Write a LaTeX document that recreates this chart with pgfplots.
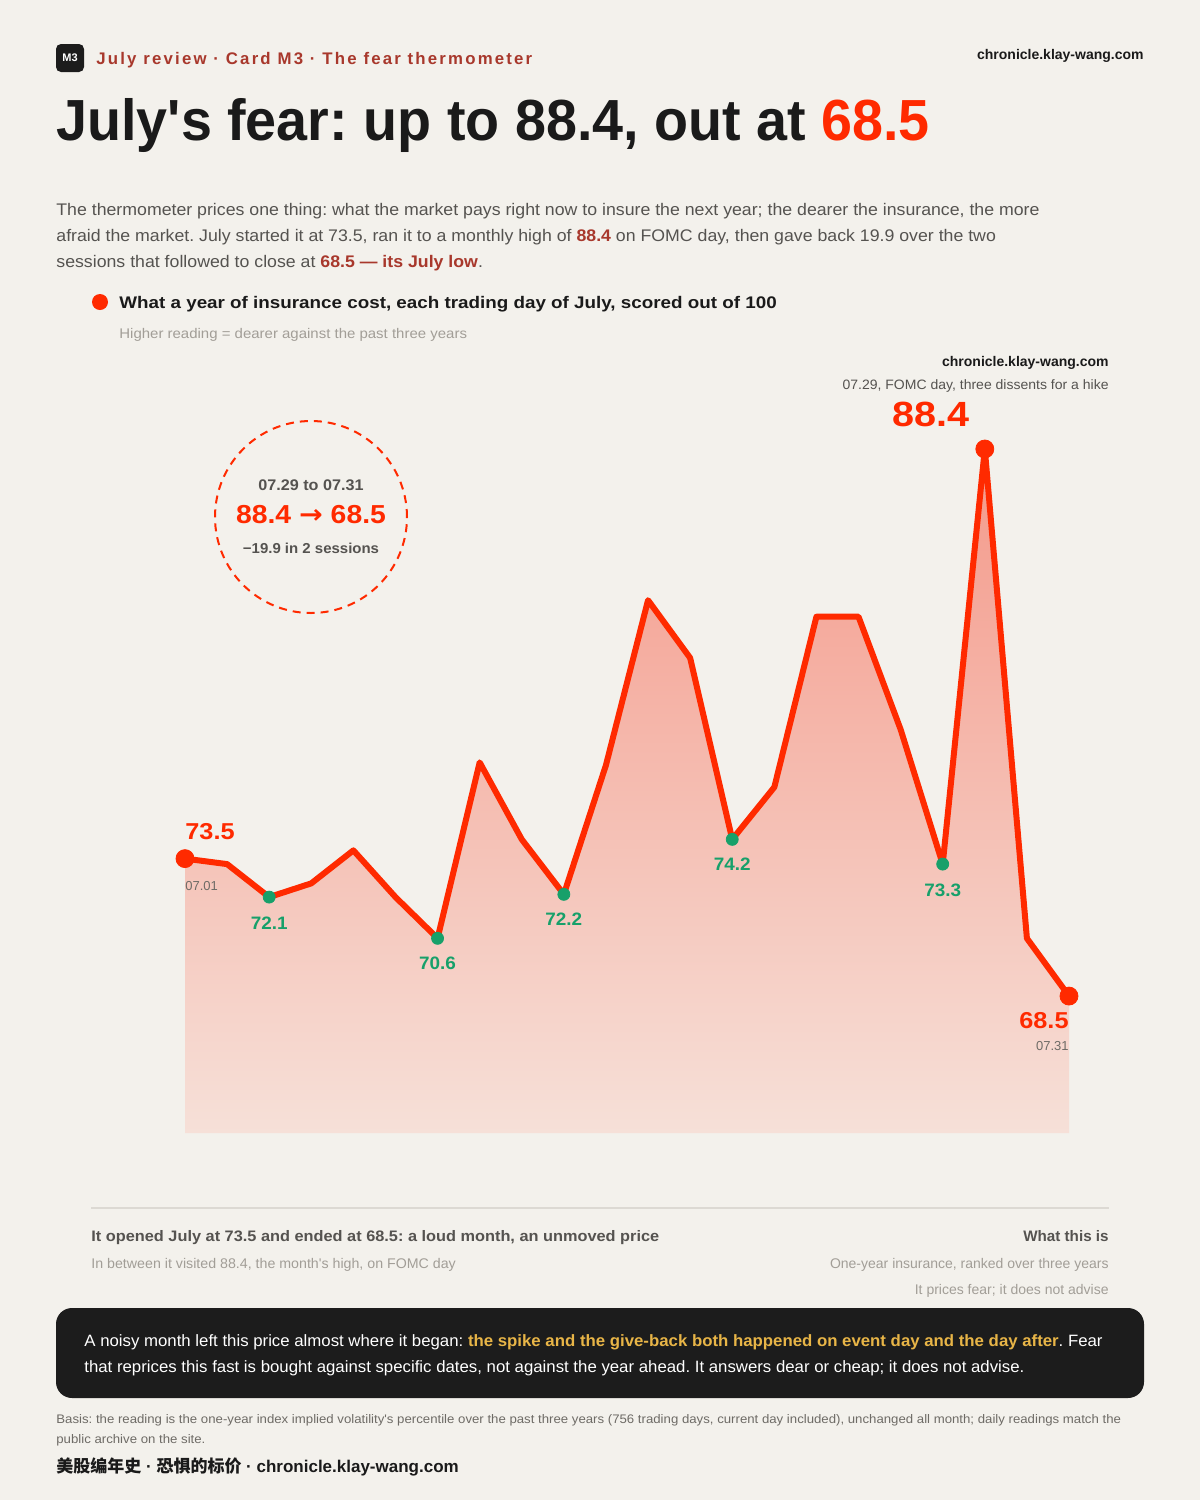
\documentclass[border=0pt]{standalone}
\usepackage{pgfplots}
\pgfplotsset{compat=1.18}
\usepackage{graphicx}
\usepackage{fontspec}
\setmainfont{Liberation Sans}
\newfontfamily\cjk{Noto Sans CJK SC}
\newfontfamily\dejavu{DejaVu Sans}
\definecolor{bg}{HTML}{F3F1EC}
\definecolor{ink}{HTML}{1A1A1A}
\definecolor{kick}{HTML}{A8382C}
\definecolor{hot}{HTML}{FF2A00}
\definecolor{grn}{HTML}{17A06A}
\definecolor{body}{HTML}{555350}
\definecolor{soft}{HTML}{A29E97}
\definecolor{mid}{HTML}{6E6B66}
\definecolor{boxc}{HTML}{1C1C1C}
\definecolor{gold}{HTML}{E8B547}
\definecolor{rulec}{HTML}{DCD9D3}
\definecolor{fillTop}{HTML}{F4998A}
\definecolor{fillBot}{HTML}{F6E0D8}
\newcommand{\fs}[1]{\fontsize{#1}{#1}\selectfont}
\newcommand{\hs}[2]{\scalebox{#1}[1]{#2}}
\frenchspacing
\begin{document}
\frenchspacing
\begin{tikzpicture}[x=0.5pt,y=-0.5pt]
\path[use as bounding box] (0,0) rectangle (1200,1500);
\fill[bg] (0,0) rectangle (1200,1500);
% header
\fill[boxc, rounded corners=2.5pt] (56,44) rectangle (84,72);
\node[text=white, font=\fs{5.5}\bfseries, inner sep=0pt] at (70,58) {M3};
\node[anchor=base west, inner sep=0pt, text=kick, font=\fs{8.4}\bfseries\addfontfeature{LetterSpace=13}] at (96,64.5) {July review · Card M3 · The fear thermometer};
\node[anchor=base east, inner sep=0pt, text=ink, font=\fs{7}\bfseries] at (1144,59) {chronicle.klay-wang.com};
\node[anchor=base west, inner sep=0pt, text=ink] at (56,140) {\scalebox{0.96}[1]{\fs{29}\bfseries July\textquotesingle s fear: up to 88.4, out at \textcolor{hot}{68.5}}};
% body
\begin{scope}[every node/.style={anchor=base west, inner sep=0pt, text=body, font=\fs{8.4}}]
\node at (56,215) {\hs{1.055}{The thermometer prices one thing: what the market pays right now to insure the next year; the dearer the insurance, the more}};
\node at (56,241) {\hs{1.055}{afraid the market. July started it at 73.5, ran it to a monthly high of \textcolor{kick}{\bfseries 88.4} on FOMC day, then gave back 19.9 over the two}};
\node at (56,267) {\hs{1.055}{sessions that followed to close at \textcolor{kick}{\bfseries 68.5 — its July low}.}};
\end{scope}
\fill[hot] (100,302) circle (4pt);
\node[anchor=base west, inner sep=0pt, text=ink, font=\fs{8.4}\bfseries] at (119,308.5) {\hs{1.12}{What a year of insurance cost, each trading day of July, scored out of 100}};
\node[anchor=base west, inner sep=0pt, text=soft, font=\fs{7}] at (119,338) {\hs{1.07}{Higher reading = dearer against the past three years}};
\node[anchor=base east, inner sep=0pt, text=ink, font=\fs{7}\bfseries] at (1109,366) {chronicle.klay-wang.com};
\node[anchor=base east, inner sep=0pt, text=body, font=\fs{6.8}] at (1109,389) {\hs{1.03}{07.29, FOMC day, three dissents for a hike}};
% circle callout
\draw[hot, line width=1pt, dash pattern=on 4pt off 3pt] (311,517) circle (48pt);
\node[anchor=base, inner sep=0pt, text=body, font=\fs{7.7}\bfseries] at (311,490.5) {\hs{1.05}{07.29 to 07.31}};
\node[anchor=base, inner sep=0pt, text=hot, font=\fs{13}\bfseries] at (311,523.5) {\hs{1.09}{88.4 {\dejavu\bfseries →} 68.5}};
\node[anchor=base, inner sep=0pt, text=body, font=\fs{7.2}\bfseries] at (311,553) {\hs{1.04}{−19.9 in 2 sessions}};
% chart
\begin{axis}[at={(92.5pt,-566.5pt)}, anchor=south west, scale only axis,
  width=442pt, height=342pt, xmin=0, xmax=21, ymin=63.518, ymax=88.4,
  hide axis, clip=false]
\addplot[draw=none, top color=fillTop, bottom color=fillBot] coordinates {
 (0,63.518) (0,73.5) (1,73.3) (2,72.1) (3,72.6) (4,73.8) (5,72.1) (6,70.6) (7,77.0)
 (8,74.2) (9,72.2) (10,76.9) (11,82.9) (12,80.8) (13,74.2) (14,76.1) (15,82.3)
 (16,82.3) (17,78.2) (18,73.3) (19,88.4) (20,70.6) (21,68.5) (21,63.518)};
\addplot[hot, line width=3pt, line join=round, line cap=round] coordinates {
 (0,73.5) (1,73.3) (2,72.1) (3,72.6) (4,73.8) (5,72.1) (6,70.6) (7,77.0)
 (8,74.2) (9,72.2) (10,76.9) (11,82.9) (12,80.8) (13,74.2) (14,76.1) (15,82.3)
 (16,82.3) (17,78.2) (18,73.3) (19,88.4) (20,70.6) (21,68.5)};
\addplot[only marks, mark=*, mark size=3pt, color=grn] coordinates {
 (2,72.1) (6,70.6) (9,72.2) (13,74.2) (18,73.3)};
\addplot[only marks, mark=*, mark size=4.5pt, color=hot] coordinates {
 (0,73.5) (19,88.4) (21,68.5)};
\node[anchor=west, inner sep=0pt, text=hot, font=\fs{11.5}\bfseries, yshift=13.5pt] at (axis cs:0,73.5) {\hs{1.1}{73.5}};
\node[anchor=west, inner sep=0pt, text=mid, font=\fs{6.5}, yshift=-13.5pt] at (axis cs:0,73.5) {07.01};
\node[inner sep=0pt, text=grn, font=\fs{9}\bfseries, yshift=-13pt] at (axis cs:2,72.1) {\hs{1.05}{72.1}};
\node[inner sep=0pt, text=grn, font=\fs{9}\bfseries, yshift=-12.5pt] at (axis cs:6,70.6) {\hs{1.05}{70.6}};
\node[inner sep=0pt, text=grn, font=\fs{9}\bfseries, yshift=-12.5pt] at (axis cs:9,72.2) {\hs{1.05}{72.2}};
\node[inner sep=0pt, text=grn, font=\fs{9}\bfseries, yshift=-12.5pt] at (axis cs:13,74.2) {\hs{1.05}{74.2}};
\node[inner sep=0pt, text=grn, font=\fs{9}\bfseries, yshift=-13pt] at (axis cs:18,73.3) {\hs{1.05}{73.3}};
\node[anchor=east, inner sep=0pt, text=hot, font=\fs{11.5}\bfseries, yshift=-12.5pt] at (axis cs:21,68.5) {\hs{1.1}{68.5}};
\node[anchor=east, inner sep=0pt, text=mid, font=\fs{6.5}, yshift=-25pt] at (axis cs:21,68.5) {07.31};
\node[inner sep=0pt, text=hot, font=\fs{17.5}\bfseries, xshift=-27pt, yshift=17.5pt] at (axis cs:19,88.4) {\hs{1.13}{88.4}};
\end{axis}
% bottom notes
\draw[rulec, line width=0.8pt] (91,1208) -- (1109,1208);
\node[anchor=base west, inner sep=0pt, text=body, font=\fs{7.6}\bfseries] at (91,1241) {\hs{1.074}{It opened July at 73.5 and ended at 68.5: a loud month, an unmoved price}};
\node[anchor=base west, inner sep=0pt, text=soft, font=\fs{7}] at (91,1268) {\hs{1.015}{In between it visited 88.4, the month\textquotesingle s high, on FOMC day}};
\node[anchor=base east, inner sep=0pt, text=body, font=\fs{7.6}\bfseries] at (1109,1241) {What this is};
\node[anchor=base east, inner sep=0pt, text=soft, font=\fs{7}] at (1109,1268) {One-year insurance, ranked over three years};
\node[anchor=base east, inner sep=0pt, text=soft, font=\fs{7}] at (1109,1294) {It prices fear; it does not advise};
% dark box
\fill[boxc, rounded corners=8pt] (56,1308) rectangle (1144,1398);
\node[anchor=base west, inner sep=0pt, text=white, font=\fs{8.2}] at (84,1346) {\hs{1.024}{A noisy month left this price almost where it began: \textcolor{gold}{\bfseries the spike and the give-back both happened on event day and the day after}. Fear}};
\node[anchor=base west, inner sep=0pt, text=white, font=\fs{8.2}] at (84,1372) {\hs{1.024}{that reprices this fast is bought against specific dates, not against the year ahead. It answers dear or cheap; it does not advise.}};
% basis and footer
\node[anchor=base west, inner sep=0pt, text=mid, font=\fs{6.2}] at (56,1423.5) {\hs{1.065}{Basis: the reading is the one-year index implied volatility\textquotesingle s percentile over the past three years (756 trading days, current day included), unchanged all month; daily readings match the}};
\node[anchor=base west, inner sep=0pt, text=mid, font=\fs{6.2}] at (56,1443.5) {\hs{1.065}{public archive on the site.}};
\node[anchor=base west, inner sep=0pt, text=ink, font=\fs{8.5}\bfseries] at (56,1472) {{\cjk\bfseries 美股编年史} · {\cjk\bfseries 恐惧的标价} · chronicle.klay-wang.com};
\end{tikzpicture}
\end{document}
